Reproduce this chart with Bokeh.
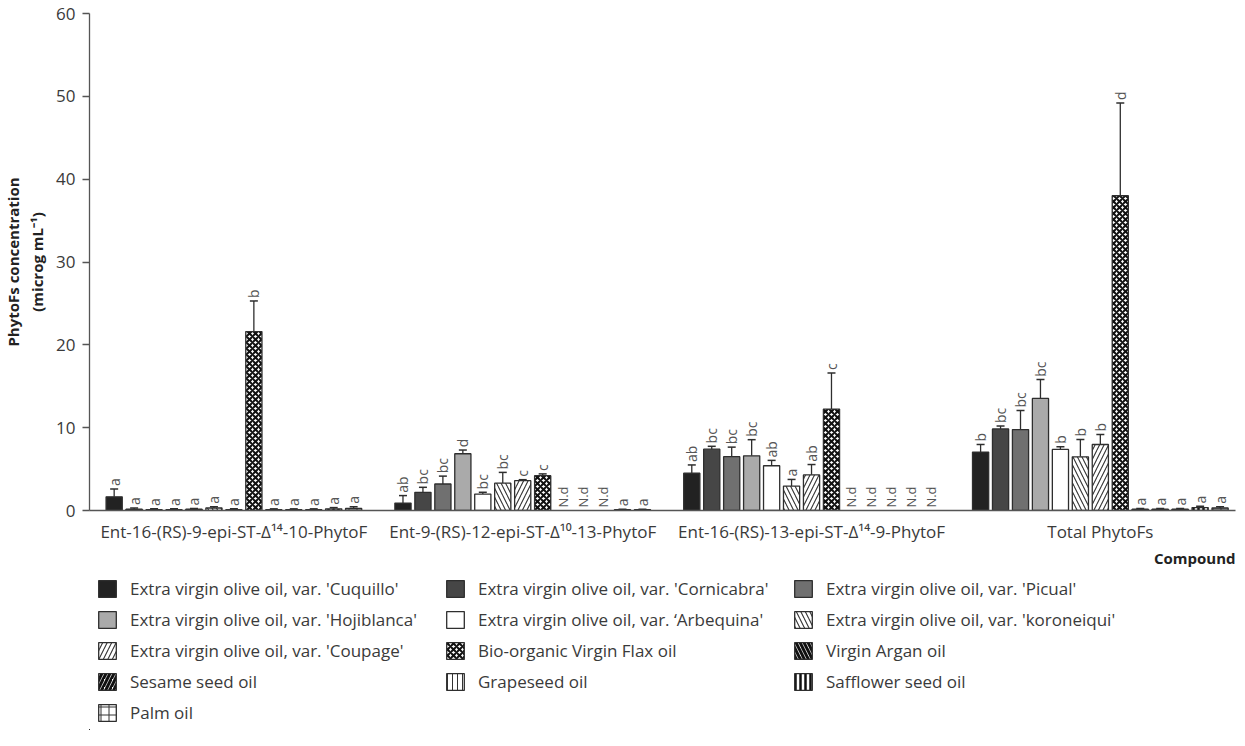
import math
from bokeh.plotting import figure
from bokeh.layouts import column
from bokeh.models import (ColumnDataSource, Whisker, TeeHead, Legend, LegendItem,
                          FixedTicker, Range1d, Title)
from bokeh.core.properties import value
from bokeh.embed import file_html
from bokeh.resources import INLINE

# ---------------- data ----------------
compounds = [
    "Ent-16-(RS)-9-epi-ST-Δ¹⁴-10-PhytoF",
    "Ent-9-(RS)-12-epi-ST-Δ¹⁰-13-PhytoF",
    "Ent-16-(RS)-13-epi-ST-Δ¹⁴-9-PhytoF",
    "Total PhytoFs",
]
oils = [
    "Extra virgin olive oil, var. 'Cuquillo'",
    "Extra virgin olive oil, var. 'Cornicabra'",
    "Extra virgin olive oil, var. 'Picual'",
    "Extra virgin olive oil, var. 'Hojiblanca'",
    "Extra virgin olive oil, var. \u2018Arbequina'",
    "Extra virgin olive oil, var. 'koroneiqui'",
    "Extra virgin olive oil, var. 'Coupage'",
    "Bio-organic Virgin Flax oil",
    "Virgin Argan oil",
    "Sesame seed oil",
    "Grapeseed oil",
    "Safflower seed oil",
    "Palm oil",
]
ND = None  # not detected

ent16_9_mean = [1.65, 0.15, 0.1, 0.1, 0.15, 0.3, 0.1, 21.6, 0.1, 0.1, 0.1, 0.2, 0.25]
ent16_9_sd = [0.95, 0.15, 0.1, 0.1, 0.1, 0.15, 0.1, 3.7, 0.1, 0.1, 0.1, 0.15, 0.2]
ent16_9_letters = ["a", "a", "a", "a", "a", "a", "a", "b", "a", "a", "a", "a", "a"]

ent9_12_mean = [0.9, 2.2, 3.2, 6.85, 1.98, 3.3, 3.6, 4.2, ND, ND, ND, 0.1, 0.1]
ent9_12_sd = [0.9, 0.6, 0.95, 0.45, 0.22, 1.3, 0.12, 0.22, ND, ND, ND, 0.05, 0.05]
ent9_12_letters = ["ab", "bc", "bc", "d", "bc", "bc", "c", "c", "", "", "", "a", "a"]

ent16_13_mean = [4.5, 7.4, 6.5, 6.6, 5.4, 2.95, 4.3, 12.25, ND, ND, ND, ND, ND]
ent16_13_sd = [1.0, 0.35, 1.15, 1.95, 0.65, 0.8, 1.25, 4.35, ND, ND, ND, ND, ND]
ent16_13_letters = ["ab", "bc", "bc", "bc", "ab", "a", "ab", "c", "", "", "", "", ""]

total_mean = [7.05, 9.85, 9.77, 13.53, 7.37, 6.48, 7.97, 38.0, 0.15, 0.15, 0.15, 0.35, 0.3]
total_sd = [0.92, 0.35, 2.3, 2.27, 0.33, 2.09, 1.21, 11.2, 0.1, 0.1, 0.1, 0.15, 0.15]
total_letters = ["b", "bc", "bc", "bc", "b", "b", "b", "d", "a", "a", "a", "a", "a"]

y_ticks = [0, 10, 20, 30, 40, 50, 60]

means = [ent16_9_mean, ent9_12_mean, ent16_13_mean, total_mean]
sds = [ent16_9_sd, ent9_12_sd, ent16_13_sd, total_sd]
letters = [ent16_9_letters, ent9_12_letters, ent16_13_letters, total_letters]

# ---------------- styles ----------------
# (fill, hatch_pattern, hatch_weight, hatch_scale, hatch_color)
styles = [
    ("#222222", None, 1, 8, "#000"),
    ("#464646", None, 1, 8, "#000"),
    ("#707070", None, 1, 8, "#000"),
    ("#aaaaaa", None, 1, 8, "#000"),
    ("#ffffff", None, 1, 8, "#000"),
    ("#ffffff", "\\", 1.1, 9, "#333333"),
    ("#ffffff", "/", 1.1, 9, "#333333"),
    ("#ffffff", "x", 2.0, 6, "#111111"),
    ("#ffffff", "\\", 3.0, 8, "#111111"),
    ("#ffffff", "/", 3.0, 8, "#111111"),
    ("#ffffff", "|", 1.0, 5, "#333333"),
    ("#ffffff", "|", 2.5, 5, "#111111"),
    ("#ffffff", "+", 1.0, 8, "#333333"),
]


def style_kw(j):
    fill, hp, hw, hs, hc = styles[j]
    kw = dict(fill_color=fill, line_color="#2e2e2e", line_width=1.3)
    if hp:
        kw.update(hatch_pattern=hp, hatch_weight=hw, hatch_scale=hs, hatch_color=hc)
    return kw


FONT = "Open Sans"
TXT = "#3a3a3a"
AX = "#555555"

pitch = 0.0691
bar_w = 0.056
n_oils = len(oils)
mid = (n_oils - 1) / 2
x_end = 3.468

p = figure(frame_width=1146, frame_height=497, output_backend="svg",
           toolbar_location=None,
           x_range=Range1d(-0.5, x_end), y_range=Range1d(0, 60),
           min_border_left=80, min_border_right=3, min_border_top=13,
           min_border_bottom=60)
p.outline_line_color = None
p.grid.grid_line_color = None
p.background_fill_color = "white"

sources = []
lab_x, lab_y, lab_t = [], [], []
nd_x, nd_y = [], []
for j, oil in enumerate(oils):
    xs, tops, uppers = [], [], []
    for g in range(len(compounds)):
        xx = g + (j - mid) * pitch
        m = means[g][j]
        s = sds[g][j]
        xs.append(xx)
        if m is None:
            tops.append(float("nan"))
            uppers.append(float("nan"))
            nd_x.append(xx)
            nd_y.append(0.35)
        else:
            tops.append(m)
            uppers.append(m + s)
            if letters[g][j]:
                lab_x.append(xx)
                lab_y.append(m + s + 0.35)
                lab_t.append(letters[g][j])
    src = ColumnDataSource(dict(x=xs, top=tops, upper=uppers))
    sources.append(src)
    p.vbar(x="x", top="top", bottom=0, width=bar_w, source=src, **style_kw(j))
    wh = Whisker(source=src, base="x", lower="top", upper="upper", dimension="height",
                 line_color="#2e2e2e", line_width=1.3,
                 upper_head=TeeHead(size=8, line_color="#2e2e2e", line_width=1.5),
                 lower_head=None)
    p.add_layout(wh)

lab_src = ColumnDataSource(dict(x=lab_x, y=lab_y, t=lab_t))
p.text(x="x", y="y", text="t", source=lab_src, angle=math.pi / 2,
       text_align="left", text_baseline="middle", text_font=value(FONT),
       text_font_size="14px", text_color="#555555")
nd_src = ColumnDataSource(dict(x=nd_x, y=nd_y, t=["N.d"] * len(nd_x)))
p.text(x="x", y="y", text="t", source=nd_src, angle=math.pi / 2,
       text_align="left", text_baseline="middle", text_font=value(FONT),
       text_font_size="13px", text_color="#555555")

# axes
p.yaxis.ticker = FixedTicker(ticks=y_ticks)
p.yaxis.minor_tick_line_color = None
p.yaxis.major_tick_out = 7
p.yaxis.major_tick_in = 0
p.yaxis.major_tick_line_color = AX
p.yaxis.major_tick_line_width = 1.3
p.yaxis.axis_line_color = AX
p.yaxis.axis_line_width = 1.3
p.yaxis.major_label_standoff = 7
p.yaxis.major_label_text_font = FONT
p.yaxis.major_label_text_font_size = "17px"
p.yaxis.major_label_text_color = TXT
p.yaxis.axis_label = "PhytoFs concentration\n(microg mL\u207b\u00b9)"
p.yaxis.axis_label_text_font = FONT
p.yaxis.axis_label_text_font_style = "bold"
p.yaxis.axis_label_text_font_size = "15px"
p.yaxis.axis_label_text_color = "#222222"
p.yaxis.axis_label_standoff = 6

p.xaxis.ticker = FixedTicker(ticks=list(range(len(compounds))))
p.xaxis.major_label_overrides = {i: c for i, c in enumerate(compounds)}
p.xaxis.major_tick_line_color = None
p.xaxis.minor_tick_line_color = None
p.xaxis.major_tick_out = 0
p.xaxis.major_tick_in = 0
p.xaxis.axis_line_color = AX
p.xaxis.axis_line_width = 1.3
p.xaxis.major_label_standoff = 9
p.xaxis.major_label_text_font = FONT
p.xaxis.major_label_text_font_size = "17px"
p.xaxis.major_label_text_color = TXT

p.add_layout(Title(text="Compound", align="right", text_font=FONT,
                   text_font_style="bold", text_font_size="15px",
                   text_color="#222222", standoff=0, offset=0), "below")

# ---------------- legend (own panel below the plot) ----------------
# the legend panel shares the bar sources; its view range lies away from the data
lg = figure(width=1229, height=160, output_backend="svg", toolbar_location=None,
            x_range=Range1d(100, 101), y_range=Range1d(100, 101),
            x_axis_type=None, y_axis_type=None,
            min_border_left=80, min_border_right=0, min_border_top=0,
            min_border_bottom=0)
lg.outline_line_color = None
lg.grid.grid_line_color = None

legend_items = []
for j, oil in enumerate(oils):
    r = lg.vbar(x="x", top="top", bottom=0, width=bar_w, source=sources[j], **style_kw(j))
    legend_items.append(LegendItem(label=oil, renderers=[r]))

legend = Legend(items=legend_items, ncols=3, orientation="horizontal",
                location="top_left", label_text_font=FONT,
                label_text_font_size="17px", label_text_color=TXT,
                glyph_width=22, glyph_height=21, label_standoff=12,
                label_height=22, label_width=306, spacing=8, padding=0, margin=7,
                border_line_color=None, background_fill_alpha=0)
lg.add_layout(legend)

layout = column(p, lg)
open("out.html", "w").write(file_html(layout, INLINE))
